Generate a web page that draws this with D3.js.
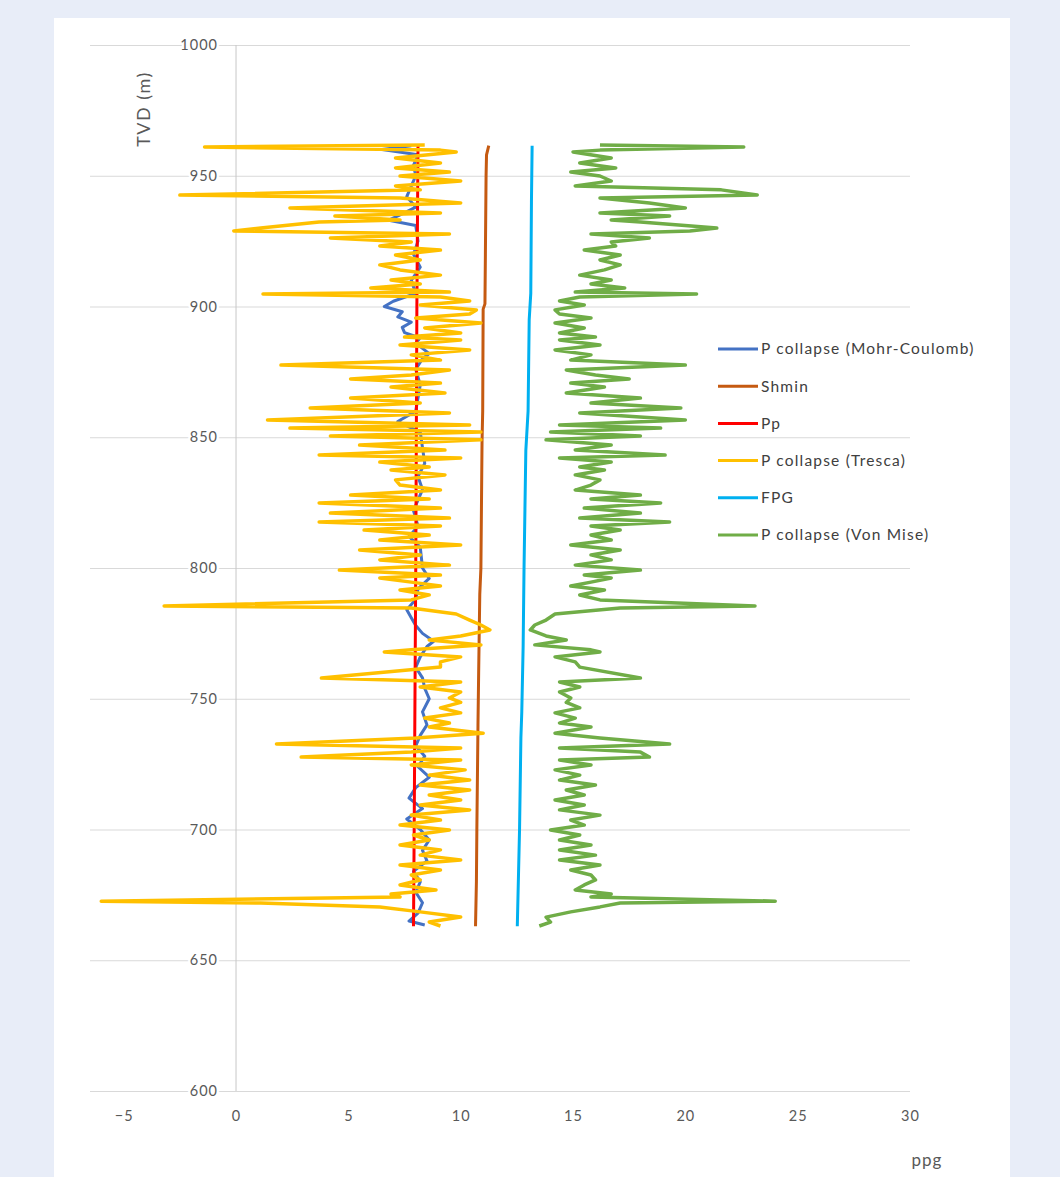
<!DOCTYPE html>
<html>
<head>
<meta charset="utf-8">
<script src="https://cdn.jsdelivr.net/npm/d3@7"></script>
<style>
  body { margin: 0; background: #e8edf8; }
  #panel { position: absolute; left: 54px; top: 18px; width: 956px; height: 1159px; background: #fff; }
  svg { position: absolute; left: 0; top: 0; }
  text { font-family: Lato, "Open Sans", sans-serif; }
</style>
</head>
<body>
<div id="panel"></div>
<div id="chart"></div>
<script>
// Tick values
const xTicks = [-5, 0, 5, 10, 15, 20, 25, 30];
const yTicks = [600, 650, 700, 750, 800, 850, 900, 950, 1000];

// [TVD (m), ppg]
const shmin = [[961.5, 11.25], [958, 11.15], [950, 11.13], [920, 11.1], [901, 11.08], [899, 11.0], [860, 10.98], [848, 10.95], [800, 10.9], [790, 10.85], [760, 10.8], [740, 10.77], [700, 10.72], [680, 10.7], [663, 10.66]];
const pp = [[961.5, 8.1], [900, 8.05], [800, 8.0], [700, 7.93], [663, 7.9]];
const fpg = [[961.5, 13.18], [940, 13.15], [905, 13.12], [895, 13.05], [860, 13.0], [845, 12.9], [800, 12.82], [770, 12.78], [745, 12.72], [735, 12.68], [700, 12.62], [663, 12.52]];

const mohrCoulomb = [[961.5, 7.8], [960, 6.5], [958, 8.1], [954, 7.9], [950, 8.0], [946, 7.8], [942, 7.6], [938, 8.0], [935, 7.3], [933, 6.8], [931, 8.0], [925, 8.1], [920, 7.9], [915, 8.2], [910, 7.8], [905, 8.0], [902, 7.0], [900, 6.6], [898, 7.4], [896, 7.2], [894, 7.8], [892, 7.4], [890, 7.5], [888, 8.2], [886, 8.0], [884, 8.3], [882, 8.6], [880, 8.3], [876, 8.0], [870, 8.2], [860, 8.0], [856, 7.2], [852, 8.2], [846, 8.3], [840, 8.4], [835, 8.1], [830, 8.3], [822, 7.9], [816, 8.1], [812, 7.7], [808, 8.2], [800, 8.3], [796, 8.6], [792, 8.1], [788, 8.0], [784, 7.6], [781, 7.8], [778, 8.0], [775, 8.3], [772, 8.8], [770, 8.5], [766, 8.2], [762, 8.0], [758, 8.3], [754, 8.4], [750, 8.6], [745, 8.3], [740, 8.5], [736, 8.2], [732, 8.0], [728, 8.4], [724, 8.1], [720, 8.6], [716, 8.0], [712, 7.7], [708, 8.3], [704, 7.6], [700, 8.2], [696, 8.6], [692, 8.3], [688, 8.5], [684, 7.9], [680, 8.2], [676, 8.0], [672, 8.3], [668, 8.1], [665, 7.7], [663.5, 8.4]];

const tresca = [[961.8, 8.4], [961.0, -1.4], [959.8, 9.1], [959.1, 9.8], [956.8, 7.1], [954.9, 9.1], [953.0, 7.1], [951.4, 9.5], [949.9, 7.3], [948.0, 10.0], [946.1, 7.1], [944.6, 8.2], [942.6, -2.5], [941.5, 7.3], [939.6, 10.0], [937.7, 2.4], [935.8, 9.1], [934.6, 4.4], [933.1, 7.3], [932.3, 3.7], [930.0, 1.1], [928.9, -0.1], [927.7, 9.5], [926.2, 4.2], [924.7, 7.8], [923.1, 6.4], [921.6, 9.1], [919.7, 7.1], [917.8, 8.2], [915.9, 6.4], [914.0, 7.3], [912.0, 9.1], [910.1, 6.9], [908.6, 8.2], [907.1, 6.0], [905.5, 9.5], [904.8, 1.2], [903.6, 9.1], [902.1, 10.4], [900.6, 8.2], [898.7, 10.7], [897.1, 10.4], [895.6, 8.0], [893.7, 10.9], [891.8, 8.4], [889.9, 10.0], [888.3, 7.5], [887.2, 10.0], [885.3, 7.3], [883.4, 10.4], [881.5, 7.8], [879.5, 9.1], [877.6, 2.0], [875.7, 9.5], [873.8, 7.8], [872.3, 5.1], [870.7, 9.1], [869.2, 6.9], [866.9, 9.3], [865.0, 5.1], [863.1, 8.2], [861.2, 3.3], [859.3, 9.5], [856.6, 1.4], [854.7, 10.4], [853.5, 2.4], [852.0, 10.9], [850.5, 4.2], [849.0, 10.9], [847.0, 5.5], [845.1, 9.3], [843.2, 3.7], [842.1, 10.0], [840.5, 6.4], [838.6, 8.6], [837.5, 6.9], [835.6, 9.3], [833.7, 7.1], [831.7, 7.3], [829.8, 9.1], [827.9, 5.1], [826.4, 8.6], [824.9, 3.7], [822.9, 9.1], [821.0, 4.2], [819.1, 9.5], [817.6, 3.7], [816.1, 9.1], [814.5, 5.7], [812.6, 8.6], [810.7, 6.4], [808.8, 10.0], [806.9, 5.5], [805.0, 8.2], [803.1, 6.4], [801.1, 9.5], [799.2, 4.6], [797.3, 9.1], [796.2, 6.4], [794.6, 7.8], [793.1, 9.1], [791.6, 7.3], [789.7, 8.6], [787.8, 7.8], [785.5, -3.2], [784.7, 7.8], [782.4, 9.8], [780.1, 10.4], [778.2, 10.9], [776.3, 11.3], [774.0, 10.0], [772.5, 8.6], [770.6, 10.9], [768.7, 7.8], [767.9, 6.6], [766.0, 10.0], [764.1, 9.1], [762.1, 9.1], [757.9, 3.8], [756.4, 10.0], [754.5, 8.2], [752.6, 10.0], [750.3, 9.5], [748.6, 10.0], [746.5, 9.1], [744.6, 10.0], [742.6, 8.4], [740.7, 9.5], [739.2, 8.6], [736.8, 11.0], [735.0, 8.0], [732.7, 1.8], [731.2, 10.0], [729.6, 7.8], [727.7, 2.9], [726.6, 10.0], [724.7, 7.8], [722.8, 10.2], [720.8, 8.6], [718.9, 10.4], [717.0, 8.2], [715.1, 10.4], [713.2, 8.6], [711.3, 10.0], [709.4, 8.2], [707.5, 10.4], [705.5, 7.8], [703.6, 9.1], [701.7, 7.3], [699.8, 9.5], [697.9, 7.9], [696.0, 8.6], [694.1, 7.3], [692.2, 9.1], [690.2, 8.2], [688.3, 10.0], [686.4, 7.3], [684.5, 9.1], [682.6, 7.8], [680.7, 8.2], [678.8, 7.3], [676.9, 8.9], [675.3, 6.9], [674.2, 7.3], [672.6, -6.0], [671.9, 1.1], [670.4, 6.4], [668.5, 8.2], [666.5, 10.0], [664.6, 8.6], [663.1, 9.1]];

const vonMise = [[961.8, 16.2], [961.0, 22.6], [959.8, 16.2], [959.1, 15.0], [956.8, 16.7], [954.9, 15.3], [953.0, 16.9], [951.4, 14.9], [949.9, 16.2], [948.0, 16.7], [946.1, 15.1], [944.6, 21.6], [942.6, 23.2], [941.5, 16.2], [939.6, 18.4], [937.7, 20.0], [935.8, 16.2], [934.6, 19.3], [933.1, 16.7], [932.3, 18.0], [930.0, 21.4], [928.9, 20.2], [927.7, 15.8], [926.2, 18.4], [924.7, 16.7], [923.1, 16.9], [921.6, 15.5], [919.7, 17.1], [917.8, 16.2], [915.9, 17.1], [914.0, 16.4], [912.0, 15.3], [910.1, 16.7], [908.6, 15.8], [907.1, 17.3], [905.5, 15.1], [904.8, 20.5], [903.6, 15.3], [902.1, 14.4], [900.6, 15.5], [898.7, 14.2], [897.1, 14.4], [895.6, 15.8], [893.7, 14.2], [891.8, 15.5], [889.9, 14.4], [888.3, 16.0], [887.2, 14.4], [885.3, 16.2], [883.4, 14.2], [881.5, 15.8], [879.5, 14.9], [877.6, 20.0], [875.7, 14.7], [873.8, 16.0], [872.3, 17.5], [870.7, 14.9], [869.2, 16.4], [866.9, 14.7], [865.0, 18.0], [863.1, 15.8], [861.2, 19.8], [859.3, 15.3], [856.6, 20.0], [854.7, 14.4], [853.5, 18.9], [852.0, 14.0], [850.5, 18.0], [849.0, 13.8], [847.0, 16.7], [845.1, 15.1], [843.2, 19.1], [842.1, 14.4], [840.5, 16.7], [838.6, 15.3], [837.5, 16.4], [835.6, 15.1], [833.7, 16.2], [831.7, 15.8], [829.8, 15.1], [827.9, 18.0], [826.4, 15.8], [824.9, 18.9], [822.9, 15.5], [821.0, 18.0], [819.1, 15.3], [817.6, 19.3], [816.1, 15.8], [814.5, 17.1], [812.6, 15.8], [810.7, 16.7], [808.8, 14.9], [806.9, 17.1], [805.0, 15.8], [803.1, 16.7], [801.1, 15.1], [799.2, 18.0], [797.3, 15.5], [796.2, 16.7], [794.6, 15.8], [793.1, 14.9], [791.6, 16.4], [789.7, 15.3], [787.8, 16.2], [785.5, 23.1], [784.7, 17.1], [782.4, 14.2], [780.1, 13.8], [778.2, 13.3], [776.3, 13.1], [774.0, 13.8], [772.5, 14.7], [770.6, 13.3], [768.7, 15.8], [767.9, 16.2], [766.0, 14.2], [764.1, 15.1], [762.1, 15.3], [757.9, 18.0], [756.4, 14.4], [754.5, 15.3], [752.6, 14.4], [750.3, 14.9], [748.6, 14.7], [746.5, 15.3], [744.6, 14.2], [742.6, 15.1], [740.7, 14.4], [739.2, 15.8], [736.8, 14.2], [735.0, 16.2], [732.7, 19.3], [731.2, 14.4], [729.6, 18.0], [727.7, 18.4], [726.6, 14.4], [724.7, 15.8], [722.8, 14.2], [720.8, 15.3], [718.9, 14.4], [717.0, 16.0], [715.1, 14.7], [713.2, 15.5], [711.3, 14.2], [709.4, 15.5], [707.5, 14.4], [705.5, 16.2], [703.6, 14.9], [701.7, 15.5], [699.8, 14.0], [697.9, 15.3], [696.0, 14.4], [694.1, 15.8], [692.2, 14.4], [690.2, 16.0], [688.3, 14.4], [686.4, 16.2], [684.5, 14.9], [682.6, 15.8], [680.7, 16.0], [678.8, 15.5], [676.9, 15.1], [675.3, 16.7], [674.2, 15.8], [672.6, 24.0], [671.9, 17.1], [670.4, 16.2], [668.5, 14.9], [666.5, 13.8], [664.6, 14.0], [663.1, 13.5]];

const seriesNames = ["P collapse (Mohr-Coulomb)", "Shmin", "Pp", "P collapse (Tresca)", "FPG", "P collapse (Von Mise)"];
const seriesColors = ["#4472c4", "#c55a11", "#ff0000", "#ffc000", "#00b0f0", "#70ad47"];
const seriesData = [mohrCoulomb, shmin, pp, tresca, fpg, vonMise];

const W = 1060, H = 1177;
const svg = d3.select("#chart").append("svg")
    .attr("width", W)
    .attr("height", H);

const x = d3.scaleLinear().domain([-6.5, 30]).range([90, 910]);
const y = d3.scaleLinear().domain([600, 1000]).range([1091, 45]);

// horizontal gridlines
svg.append("g")
    .attr("transform", "translate(90,0)")
    .call(d3.axisLeft(y).tickValues(yTicks).tickSize(-820).tickFormat(""))
    .call(g => g.select(".domain").remove())
    .call(g => g.selectAll("line").attr("stroke", "#d9d9d9"));

// vertical axis line at x = 0
svg.append("line")
    .attr("x1", x(0)).attr("x2", x(0))
    .attr("y1", y(1000)).attr("y2", y(600))
    .attr("stroke", "#c8c8c8");

// y tick labels sit on the gridlines
svg.append("g")
    .attr("transform", "translate(222,0)")
    .call(d3.axisLeft(y).tickValues(yTicks).tickSize(0).tickPadding(4).tickFormat(d3.format("d")))
    .call(g => g.select(".domain").remove())
    .call(g => g.selectAll("text")
        .attr("font-size", 14.5)
        .attr("letter-spacing", 1)
        .attr("fill", "#595959")
        .attr("stroke", "#fff")
        .attr("stroke-width", 5)
        .attr("paint-order", "stroke")
        .style("font-family", "Lato, sans-serif"));

// x tick labels
svg.append("g")
    .attr("transform", `translate(0,${y(600)})`)
    .call(d3.axisBottom(x).tickValues(xTicks).tickSize(0).tickPadding(20))
    .call(g => g.select(".domain").remove())
    .call(g => g.selectAll("text")
        .attr("font-size", 14.5)
        .attr("letter-spacing", 1)
        .attr("fill", "#595959")
        .style("font-family", "Lato, sans-serif"));

// axis titles
svg.append("text")
    .attr("transform", "translate(150,109) rotate(-90)")
    .attr("text-anchor", "middle")
    .attr("font-size", 18)
    .attr("letter-spacing", 1.5)
    .attr("fill", "#595959")
    .text("TVD  (m)");

svg.append("text")
    .attr("x", 927)
    .attr("y", 1166)
    .attr("text-anchor", "middle")
    .attr("font-size", 17)
    .attr("letter-spacing", 1)
    .attr("fill", "#595959")
    .text("ppg");

// series lines
const line = d3.line()
    .x(d => x(d[1]))
    .y(d => y(d[0]));

seriesData.forEach((data, i) => {
    svg.append("path")
        .datum(data)
        .attr("fill", "none")
        .attr("stroke", seriesColors[i])
        .attr("stroke-width", i === 3 || i === 5 ? 3.5 : 3)
        .attr("stroke-linejoin", "round")
        .attr("d", line);
});

// legend
const legend = svg.append("g")
    .attr("transform", "translate(718,349)");

seriesNames.forEach((name, i) => {
    const row = legend.append("g").attr("transform", `translate(0,${i * 37.2})`);
    row.append("line")
        .attr("x1", 0).attr("x2", 40)
        .attr("stroke", seriesColors[i])
        .attr("stroke-width", 3);
    row.append("text")
        .attr("x", 43)
        .attr("dy", "0.35em")
        .attr("font-size", 15.5)
        .attr("letter-spacing", 1.2)
        .attr("fill", "#404040")
        .text(name);
});
</script>
</body>
</html>
